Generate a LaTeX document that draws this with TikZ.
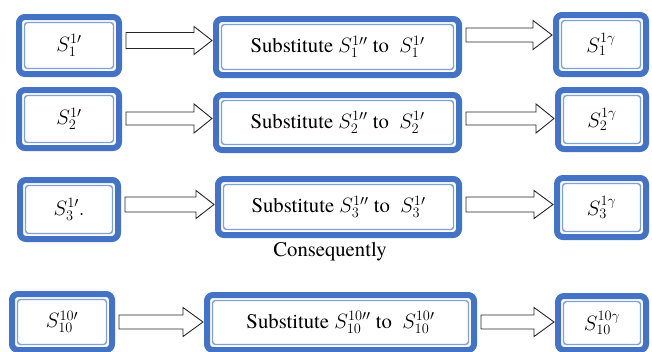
\documentclass[tikz,border=0pt]{standalone}
\usepackage{fontspec}
\setmainfont{texgyretermes}[Extension=.otf, UprightFont=*-regular, ItalicFont=*-italic, BoldFont=*-bold, BoldItalicFont=*-bolditalic]
\usetikzlibrary{calc}
\definecolor{bandblue}{HTML}{4472C4}
\definecolor{lineblue}{HTML}{7F9FD9}
\tikzset{
  boxo/.style={draw=bandblue, line width=6pt, rounded corners=6pt, fill=white, inner sep=0pt, font=\huge},
  boxi/.style={draw=lineblue, line width=1.4pt, rounded corners=3pt},
  blockarrow/.style={draw=black!85, line width=0.9pt, fill=white, line join=miter},
  note/.style={font=\huge}
}
\newcommand{\dbox}[6]{%
  \node[boxo, minimum width={#4-#2-6}, minimum height={#5-#3-6}] (#1) at ({(#2+#4)/2},{(#3+#5)/2}) {#6};
  \draw[boxi] ([xshift=8.5pt,yshift=-8.5pt]#1.north west) rectangle ([xshift=-8.5pt,yshift=8.5pt]#1.south east);
}
% from, to, y centre, half shaft, half head, head length
\newcommand{\barrow}[6]{%
  \draw[blockarrow] let \p1=(#1.east), \p2=(#2.west) in
    ({\x1+4pt},{-(#3-#4)*1pt}) -- ({\x2-1pt-#6*1pt},{-(#3-#4)*1pt}) --
    ({\x2-1pt-#6*1pt},{-(#3-#5)*1pt}) -- ({\x2-1pt},{-#3*1pt}) --
    ({\x2-1pt-#6*1pt},{-(#3+#5)*1pt}) -- ({\x2-1pt-#6*1pt},{-(#3+#4)*1pt}) --
    ({\x1+4pt},{-(#3+#4)*1pt}) -- cycle;
}
\begin{document}
\begin{tikzpicture}[x=1pt,y=-1pt]
\clip (0,0) rectangle (652,351);
\fill[white] (0,0) rectangle (652,351);
% row 1
\dbox{l1}{16}{14}{122}{77}{$S_1^{1\prime}$}
\dbox{m1}{213}{16}{462}{78}{Substitute $S_1^{1\prime\prime}$ to\ \ $S_1^{1\prime}$}
\dbox{r1}{553}{12}{649}{77}{$S_1^{1\gamma}$}
\barrow{l1}{m1}{40.5}{8}{14}{18}
\barrow{m1}{r1}{35}{7}{14.5}{19}
% row 2
\dbox{l2}{16}{87}{122}{151}{$S_2^{1\prime}$}
\dbox{m2}{213}{92}{462}{153}{Substitute $S_2^{1\prime\prime}$ to\ \ $S_2^{1\prime}$}
\dbox{r2}{555}{87}{649}{152}{$S_2^{1\gamma}$}
\barrow{l2}{m2}{118.5}{6.5}{14.5}{18}
\barrow{m2}{r2}{118.5}{6.5}{14.5}{18}
% row 3
\dbox{l3}{17}{177}{121}{242}{$S_3^{1\prime}.$}
\dbox{m3}{215}{176}{462}{238}{Substitute $S_3^{1\prime\prime}$ to\ \ $S_3^{1\prime}$}
\dbox{r3}{554}{175}{649}{240}{$S_3^{1\gamma}$}
\barrow{l3}{m3}{204.5}{7.5}{14}{18}
\barrow{m3}{r3}{204.5}{7.5}{14}{19}
\node[note] (cons) at (330,252) {Consequently};
% row 4
\dbox{l4}{9}{291}{115}{353}{$S_{10}^{10\prime}$}
\dbox{m4}{204}{292}{477}{353}{Substitute $S_{10}^{10\prime\prime}$ to\ \ $S_{10}^{10\prime}$}
\dbox{r4}{555}{293}{649}{353}{$S_{10}^{10\gamma}$}
\barrow{l4}{m4}{322}{7}{14.5}{20}
\barrow{m4}{r4}{322}{7}{14.5}{20}
\end{tikzpicture}
\end{document}
